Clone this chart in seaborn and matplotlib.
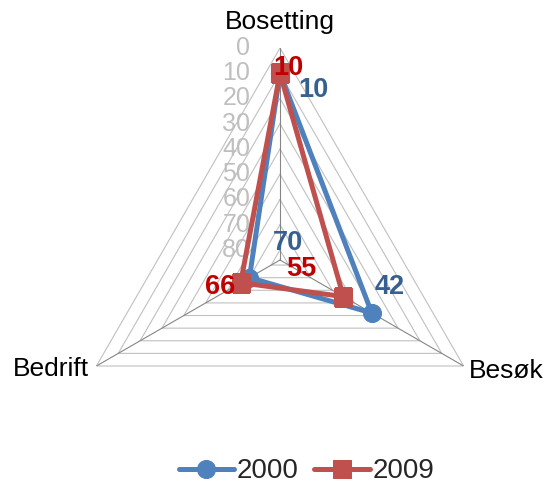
import numpy as np
import pandas as pd
import matplotlib
matplotlib.use("Agg")
import matplotlib.pyplot as plt
import seaborn as sns

# ── data ───────────────────────────────────
categories = ["Bosetting", "Besøk", "Bedrift"]
years = ["2000", "2009"]
values_2000 = [10, 42, 70]
values_2009 = [10, 55, 66]
ring_levels = [0, 10, 20, 30, 40, 50, 60, 70, 80]
r_center = 84   # reversed radial axis: 0 at the rim, ~84 at the centre

PALETTE = {"2000": "#4F81BD", "2009": "#C0504D"}
LABEL_COLORS = {"2000": "#376092", "2009": "#C00000"}
MARKERS = {"2000": "o", "2009": "s"}

sns.set_theme(style="white")
plt.rcParams["font.family"] = ["Liberation Sans", "DejaVu Sans"]

angles = np.linspace(0, 2 * np.pi, len(categories), endpoint=False)
closed = np.append(angles, angles[0])

rows = []
for year, vals in zip(years, [values_2000, values_2009]):
    for a, v in zip(closed, vals + vals[:1]):
        rows.append({"theta": a, "value": v, "year": year})
df = pd.DataFrame(rows)

fig = plt.figure(figsize=(5.5, 4.87), dpi=100)
ax = fig.add_axes([0.1236, 0.0308, 0.771, 0.8706], projection="polar")
ax.set_theta_zero_location("N")
ax.set_theta_direction(-1)
ax.set_ylim(r_center, 0)
ax.grid(False)
ax.set_xticks([])
ax.set_yticks([])
ax.spines["polar"].set_visible(False)
ax.patch.set_visible(False)

# polygon gridlines + spokes
for lvl in ring_levels:
    ax.plot(closed, [lvl] * len(closed), color="#C0C0C0", lw=0.8, zorder=1)
for a in angles:
    ax.plot([a, a], [r_center, 0], color="#868686", lw=0.8, zorder=1)

# radial tick labels along the top spoke
for lvl in ring_levels:
    ax.annotate(str(lvl), xy=(0, lvl), xytext=(-21.5, 0), textcoords="offset points",
                ha="right", va="center", fontsize=18, color="#BFBFBF")

# series
for year in years:
    sns.lineplot(data=df[df["year"] == year], x="theta", y="value", sort=False,
                 color=PALETTE[year], lw=3.6, marker=MARKERS[year],
                 markersize=13 if year == "2000" else 12.5,
                 markeredgecolor=PALETTE[year], estimator=None,
                 ax=ax, legend=False, zorder=3)
ax.set_xlabel("")
ax.set_ylabel("")

# data labels (offsets in points)
offsets = {
    "2000": [(24, -12), (13, 19), (28, 25)],
    "2009": [(6, 4), (-30, 20), (-15, -3)],
}
for year, vals in zip(years, [values_2000, values_2009]):
    for a, v, off in zip(angles, vals, offsets[year]):
        ax.annotate(str(v), xy=(a, v), xytext=off, textcoords="offset points",
                    ha="center", va="center", fontsize=19.5, fontweight="bold",
                    color=LABEL_COLORS[year], zorder=5)

# category labels
cat_pos = [((0, 19), "center", "center"), ((3.5, -3.5), "left", "center"),
           ((-5.5, -2.5), "right", "center")]
for a, name, (off, ha, va) in zip(angles, categories, cat_pos):
    ax.annotate(name, xy=(a, 0), xytext=off, textcoords="offset points",
                ha=ha, va=va, fontsize=19, color="black")

handles = [l for l in ax.get_lines() if l.get_marker() in ("o", "s")]
fig.legend(handles=handles, labels=years, loc="center", bbox_to_anchor=(0.557, 0.032),
           ncol=2, frameon=False, fontsize=20, handlelength=2.0, handletextpad=0.1,
           columnspacing=0.55)

fig.savefig("out.png", dpi=100)
